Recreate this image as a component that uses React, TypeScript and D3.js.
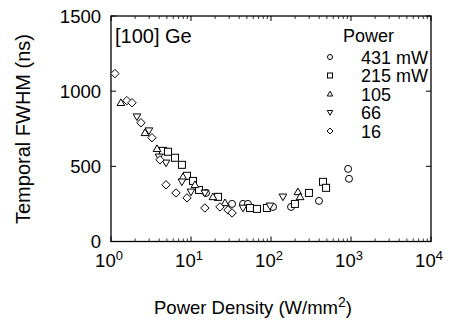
import React from "react";
import * as d3 from "d3";

// Series data: [power density (W/mm^2), temporal FWHM (ns)]
const seriesNames = ["431 mW", "215 mW", "105", "66", "16"];
const symbolKinds = ["circle", "square", "triangle", "triangleDown", "diamond"];

const p431: [number, number][] = [
  [15.4, 323], [21, 297], [32.6, 250], [44.7, 250], [51.5, 250], [106, 230],
  [178, 230], [398, 270], [920, 483], [944, 417],
];
const p215: [number, number][] = [
  [4.47, 603], [5.16, 597], [6.31, 557], [7.7, 510], [8.91, 437], [10.6, 403],
  [12.6, 343], [21.8, 297], [54.6, 223], [66.8, 217], [88.9, 223], [199, 250],
  [298, 323], [447, 397], [488, 357],
];
const p105: [number, number][] = [
  [1.33, 923], [2.66, 723], [3.76, 617], [7.94, 430], [11.2, 377], [18.8, 297],
  [26.6, 257], [217, 330], [231, 297],
];
const p66: [number, number][] = [
  [2.11, 830], [2.98, 737], [3.98, 563], [4.87, 523], [7.7, 397], [10, 330],
  [14.9, 323], [44.7, 223], [97, 237], [141, 297],
];
const p16: [number, number][] = [
  [1.12, 1117], [1.58, 937], [1.83, 923], [2.37, 790], [3.25, 690], [4.09, 543],
  [4.87, 377], [6.49, 323], [8.91, 290], [14.9, 223], [23.0, 230], [29.0, 210],
  [32.6, 190],
];
const allSeries = [p431, p215, p105, p66, p16];

const xTickValues = [1, 10, 100, 1000, 10000];
const xTickExps = ["0", "1", "2", "3", "4"];
const yTickValues = [0, 500, 1000, 1500];

const FONT = "'Liberation Sans', Arial, sans-serif";

function Marker({ kind, x, y, s }: { kind: string; x: number; y: number; s: number }) {
  const h = s / 2;
  const common = { fill: "white", stroke: "black", strokeWidth: 1 };
  if (kind === "circle") return <circle cx={x} cy={y} r={h} {...common} />;
  if (kind === "square") return <rect x={x - h} y={y - h} width={s} height={s} {...common} />;
  if (kind === "triangle")
    return <polygon points={`${x},${y - h * 1.1} ${x + h * 1.1},${y + h * 0.8} ${x - h * 1.1},${y + h * 0.8}`} {...common} />;
  if (kind === "triangleDown")
    return <polygon points={`${x},${y + h * 1.1} ${x + h * 1.1},${y - h * 0.8} ${x - h * 1.1},${y - h * 0.8}`} {...common} />;
  return <polygon points={`${x},${y - h * 1.2} ${x + h * 1.2},${y} ${x},${y + h * 1.2} ${x - h * 1.2},${y}`} {...common} />;
}

export default function App() {
  const W = 450, H = 322;
  const left = 111, right = 431, top = 16, bottom = 241.5;
  const x = d3.scaleLog().domain([1, 10000]).range([left, right]);
  const y = d3.scaleLinear().domain([0, 1500]).range([bottom, top]);

  const minor: number[] = [];
  for (let d = 0; d < 4; d++) for (let k = 2; k <= 9; k++) minor.push(k * Math.pow(10, d));

  const legendY0 = 57;
  const legendStep = 18.5;

  return (
    <svg width={W} height={H} style={{ position: "absolute", left: 0, top: 0, background: "white" }}
      fontFamily={FONT}>
      <rect x={0} y={0} width={W} height={H} fill="white" />
      {/* frame */}
      <rect x={left} y={top} width={right - left} height={bottom - top} fill="none" stroke="black" strokeWidth={1.3} />
      {/* x ticks */}
      {xTickValues.map((v) => (
        <g key={"xt" + v}>
          <line x1={x(v)} x2={x(v)} y1={bottom} y2={bottom - 5} stroke="black" />
          <line x1={x(v)} x2={x(v)} y1={top} y2={top + 5} stroke="black" />
        </g>
      ))}
      {minor.map((v) => (
        <g key={"xm" + v}>
          <line x1={x(v)} x2={x(v)} y1={bottom} y2={bottom - 3} stroke="black" strokeWidth={0.8} />
          <line x1={x(v)} x2={x(v)} y1={top} y2={top + 3} stroke="black" strokeWidth={0.8} />
        </g>
      ))}
      {/* y ticks */}
      {yTickValues.map((v) => (
        <g key={"yt" + v}>
          <line x1={left} x2={left + 5} y1={y(v)} y2={y(v)} stroke="black" />
          <line x1={right} x2={right - 5} y1={y(v)} y2={y(v)} stroke="black" />
          <text x={101} y={y(v) + 6.5} textAnchor="end" fontSize={18.5}>{v}</text>
        </g>
      ))}
      {/* x tick labels */}
      {xTickValues.map((v, i) => (
        <text key={"xl" + v} x={x(v) - 2} y={267} textAnchor="middle" fontSize={18.5}>
          10<tspan dy={-7} fontSize={13}>{xTickExps[i]}</tspan>
        </text>
      ))}
      {/* axis titles */}
      <text x={253} y={314} textAnchor="middle" fontSize={18.5}>
        Power Density (W/mm<tspan dy={-7} fontSize={14}>2</tspan><tspan dy={7}>)</tspan>
      </text>
      <text transform="translate(30,129) rotate(-90)" textAnchor="middle" fontSize={20}>
        Temporal FWHM (ns)
      </text>
      {/* inner title */}
      <text x={115} y={43} fontSize={20}>[100] Ge</text>
      {/* data */}
      {allSeries.map((pts, si) =>
        pts.map((p, i) => (
          <Marker key={si + "-" + i} kind={symbolKinds[si]} x={x(p[0])} y={y(p[1])} s={7} />
        ))
      )}
      {/* legend */}
      <text x={343} y={41.5} fontSize={18}>Power</text>
      {seriesNames.map((n, i) => (
        <g key={"lg" + n}>
          <Marker kind={symbolKinds[i]} x={330} y={legendY0 + i * legendStep} s={5} />
          <text x={361} y={legendY0 + i * legendStep + 6.5} fontSize={18}>{n}</text>
        </g>
      ))}
    </svg>
  );
}
